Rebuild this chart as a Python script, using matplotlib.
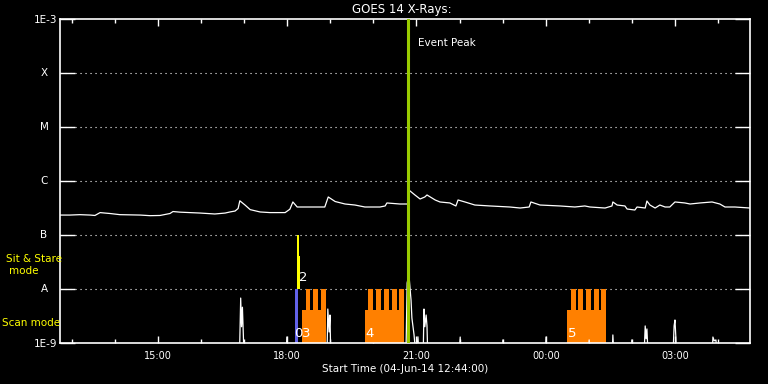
import numpy as np
import matplotlib.pyplot as plt

# hours after start time 12:44 on 04-Jun-14
long_t = [0.0, 0.23, 0.46, 0.70, 0.81, 0.93, 1.04, 1.16, 1.39, 1.86, 2.09, 2.32, 2.55,
          2.62, 2.78, 3.01, 3.25, 3.59, 3.83, 3.94, 4.06, 4.13, 4.17, 4.29, 4.41, 4.64,
          4.87, 5.22, 5.33, 5.40, 5.50, 5.68, 6.14, 6.22, 6.38, 6.61, 6.84, 7.07, 7.42,
          7.54, 7.58, 7.88, 8.00, 8.07, 8.09, 8.23, 8.35, 8.46, 8.51, 8.70, 8.81, 9.04,
          9.18, 9.23, 9.39, 9.62, 9.97, 10.43, 10.67, 10.88, 10.92, 11.13, 11.59, 11.94,
          12.17, 12.29, 12.64, 12.80, 12.82, 12.92, 13.10, 13.15, 13.33, 13.38, 13.57,
          13.61, 13.68, 13.80, 13.91, 14.03, 14.14, 14.26, 14.49, 14.61, 14.84, 15.12,
          15.30, 15.42, 15.65, 16.0]
long_flux = [2.34e-7, 2.34e-7, 2.38e-7, 2.34e-7, 2.30e-7, 2.60e-7, 2.55e-7, 2.50e-7,
             2.38e-7, 2.34e-7, 2.28e-7, 2.30e-7, 2.50e-7, 2.72e-7, 2.65e-7, 2.60e-7,
             2.55e-7, 2.45e-7, 2.55e-7, 2.67e-7, 2.78e-7, 3.10e-7, 4.30e-7, 3.59e-7,
             2.95e-7, 2.67e-7, 2.60e-7, 2.60e-7, 3.00e-7, 4.09e-7, 3.30e-7, 3.30e-7,
             3.30e-7, 5.06e-7, 4.17e-7, 3.75e-7, 3.59e-7, 3.30e-7, 3.30e-7, 3.45e-7,
             3.92e-7, 3.75e-7, 3.75e-7, 3.75e-7, 6.81e-7, 5.51e-7, 4.64e-7, 5.06e-7,
             5.51e-7, 4.45e-7, 4.09e-7, 3.92e-7, 3.45e-7, 4.45e-7, 4.09e-7, 3.59e-7,
             3.45e-7, 3.30e-7, 3.16e-7, 3.30e-7, 4.09e-7, 3.59e-7, 3.45e-7, 3.30e-7,
             3.45e-7, 3.30e-7, 3.16e-7, 3.45e-7, 4.09e-7, 3.59e-7, 3.45e-7, 3.03e-7,
             2.90e-7, 3.30e-7, 3.16e-7, 4.26e-7, 3.59e-7, 3.16e-7, 3.59e-7, 3.30e-7,
             3.30e-7, 4.09e-7, 3.92e-7, 3.75e-7, 3.92e-7, 4.09e-7, 3.75e-7, 3.30e-7,
             3.30e-7, 3.16e-7]

short_t = [0.0, 4.16, 4.19, 4.21, 4.23, 4.27, 5.24, 5.26, 5.29, 6.19, 6.21, 6.24, 6.26,
           6.28, 8.02, 8.05, 8.09, 8.12, 8.14, 8.16, 8.21, 8.26, 8.30, 8.33, 8.35, 8.42,
           8.44, 8.46, 8.49, 8.51, 8.53, 9.25, 9.28, 9.30, 10.25, 10.27, 10.30, 11.25,
           11.27, 11.29, 12.24, 12.27, 12.29, 12.80, 12.82, 12.85, 13.24, 13.26, 13.29,
           13.54, 13.57, 13.59, 13.61, 13.64, 14.21, 14.24, 14.26, 14.28, 14.30, 15.12,
           15.14, 15.17, 15.21, 15.24, 16.0]
short_flux = [5e-10, 5e-10, 6.8e-9, 2.0e-9, 4.6e-9, 5e-10, 5e-10, 1.29e-9, 5e-10,
              5e-10, 4.26e-9, 1.6e-9, 3.3e-9, 5e-10, 5e-10, 1.29e-8, 1.9e-8, 9.6e-9,
              6.25e-9, 2.9e-9, 1.41e-9, 5e-10, 1.3e-9, 5e-10, 5e-10, 5e-10, 4.26e-9,
              2.0e-9, 3.3e-9, 2.07e-9, 5e-10, 5e-10, 1.29e-9, 5e-10, 5e-10, 1.14e-9,
              5e-10, 5e-10, 1.29e-9, 5e-10, 5e-10, 1.14e-9, 5e-10, 5e-10, 1.41e-9, 5e-10,
              5e-10, 1.14e-9, 5e-10, 5e-10, 2.07e-9, 1.2e-9, 1.82e-9, 5e-10, 5e-10,
              2.07e-9, 2.67e-9, 1.3e-9, 5e-10, 5e-10, 1.29e-9, 1.1e-9, 1.14e-9, 5e-10,
              5e-10]

# scan mode rasters: base block and teeth
scan_start = [5.612, 7.072, 11.757]
scan_end = [6.161, 7.977, 12.661]
scan_base_top = 4.09e-9
teeth_start = [5.704, 5.874, 6.052,
               7.142, 7.328, 7.513, 7.699, 7.861,
               11.849, 12.019, 12.197, 12.383, 12.545]
teeth_end = [5.804, 5.976, 6.161,
             7.251, 7.437, 7.622, 7.808, 7.977,
             11.965, 12.128, 12.313, 12.492, 12.661]
scan_labels = ['3', '4', '5']

# sit & stare raster 2 and raster 1
stare_start = [5.489, 5.542]
stare_end = [5.542, 5.565]
stare_top = [1e-7, 4.1e-8]
blue_start, blue_end = 5.449, 5.519

event_peak = 8.07

tick_labels = ['15:00', '18:00', '21:00', '00:00', '03:00']
goes_levels = [1e-8, 1e-7, 1e-6, 1e-5, 1e-4]
goes_names = ['A', 'B', 'C', 'M', 'X']

orange = '#ff8000'
green = '#99cc00'
blue = '#6262e8'

fig = plt.figure(figsize=(7.68, 3.84), dpi=100, facecolor='black')
ax = fig.add_axes([60/768, 1-343/384, 690/768, 324/384], facecolor='black')
ax.set_yscale('log')
ax.set_xlim(0, 16)
ax.set_ylim(1e-9, 1e-3)

# dotted level lines
ax.hlines(goes_levels, 0, 16, colors='white', linestyles=(0, (1, 3.5)), lw=0.8, zorder=1)

# scan blocks
ax.bar(scan_start, np.array(scan_base_top) - 1e-9, width=np.array(scan_end) - np.array(scan_start),
       bottom=1e-9, align='edge', color=orange, lw=0, zorder=2)
ax.bar(teeth_start, 1e-8 - 1e-9, width=np.array(teeth_end) - np.array(teeth_start),
       bottom=1e-9, align='edge', color=orange, lw=0, zorder=2)
ax.bar(stare_start, np.array(stare_top) - 1e-8, width=np.array(stare_end) - np.array(stare_start),
       bottom=1e-8, align='edge', color='yellow', lw=0, zorder=2)
ax.bar([blue_start], [1e-8 - 1e-9], width=[blue_end - blue_start], bottom=1e-9,
       align='edge', color=blue, lw=0, zorder=2)

ax.plot(long_t, long_flux, color='white', lw=0.9, zorder=3)
ax.plot(short_t, short_flux, color='white', lw=0.9, zorder=3)

ax.axvline(event_peak, color=green, lw=2.2, zorder=4)
ax.text(event_peak + 0.22, 10**(-3.44), 'Event Peak', color='white', fontsize=7.5,
        va='center', ha='left')

for s, lab in zip(scan_start, scan_labels):
    ax.text(s + 0.01, 10**(-8.83), lab, color='white', fontsize=9.5, va='center',
            ha='left', zorder=5)
ax.text(blue_start - 0.02, 10**(-8.83), '0', color='white', fontsize=9.5, va='center',
        ha='left', zorder=5)
ax.text(stare_start[0] + 0.05, 10**(-7.79), '2', color='white', fontsize=9.5,
        va='center', ha='left', zorder=5)

# axes styling
for sp in ax.spines.values():
    sp.set_color('white')
    sp.set_linewidth(1.2)
ax.set_xticks([2 + 16/60 + 3*i for i in range(len(tick_labels))])
ax.set_xticklabels(tick_labels)
ax.set_xticks([16/60 + i for i in range(16)], minor=True)
ax.tick_params(axis='x', which='major', direction='in', length=5, width=1, colors='white',
               top=True, labelsize=7, pad=6)
ax.tick_params(axis='x', which='minor', direction='in', length=3, width=1, colors='white',
               top=True)
ax.set_yticks([1e-9] + goes_levels + [1e-3])
ax.set_yticklabels(['1E-9', '', '', '', '', '', '1E-3'])
ax.yaxis.set_minor_locator(plt.NullLocator())
ax.tick_params(axis='y', which='major', direction='in', length=10.5, width=1, colors='white',
               right=True, labelsize=7.5, pad=2)
for lv, nm in zip(goes_levels, goes_names):
    ax.text(-16/690, lv, nm, transform=ax.get_yaxis_transform(), color='white',
            fontsize=7.5, ha='center', va='center')

ax.set_xlabel('Start Time (04-Jun-14 12:44:00)', color='white', fontsize=7.5, labelpad=2)

fig.text(402/768, 1-9/384, 'GOES 14 X-Rays:', color='white', fontsize=8.5,
         ha='center', va='center')
fig.text(34/768, 1-259/384, 'Sit & Stare', color='yellow', fontsize=7.5, ha='center', va='center')
fig.text(24/768, 1-271/384, 'mode', color='yellow', fontsize=7.5, ha='center', va='center')
fig.text(2/768, 1-323/384, 'Scan mode', color='yellow', fontsize=7.5, ha='left', va='center')

fig.savefig('out.png', dpi=100, facecolor='black')
